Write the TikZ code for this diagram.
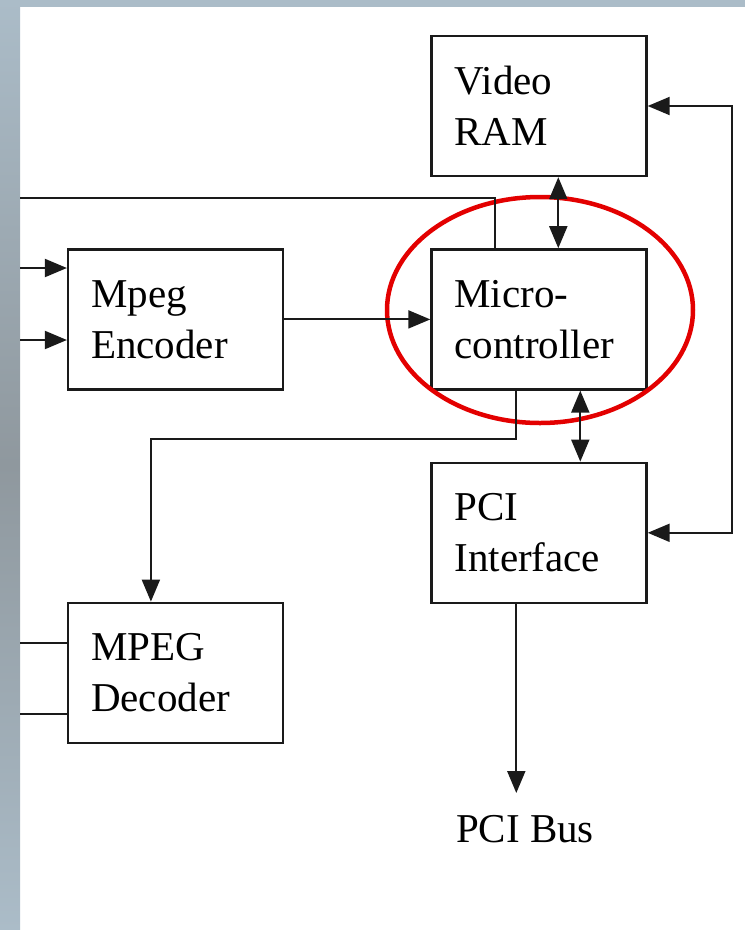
\documentclass[tikz,border=0pt]{standalone}
\usepackage{fontspec}
\setmainfont{Liberation Serif}
\usepackage{tikz}
\usetikzlibrary{arrows.meta,positioning,shapes.geometric}
\definecolor{FrameBlue}{HTML}{ABBCC8}
\definecolor{FrameGray}{HTML}{8F989E}
\definecolor{LineBlack}{HTML}{1A1A1A}
\definecolor{MarkRed}{HTML}{E30000}

\begin{document}
\begin{tikzpicture}[
  x=1pt, y=-1pt,
  % block rectangle
  blk/.style={draw=LineBlack, line width=2.4pt,
              minimum width=215pt, minimum height=140pt,
              text width=169pt, inner xsep=23pt, align=left,
              font=\fontsize{41}{51}\selectfont},
  % plain label
  lbl/.style={font=\fontsize{41}{51}\selectfont, inner sep=0pt},
  % connectors
  wire/.style={draw=LineBlack, line width=2pt},
  arr/.style={wire, -{Triangle[length=22pt,width=18pt]}},
  arrB/.style={wire, {Triangle[length=22pt,width=18pt]}-{Triangle[length=22pt,width=18pt]}},
  % highlight ring
  ring/.style={draw=MarkRed, line width=4.5pt, shape=ellipse,
               minimum width=306pt, minimum height=226pt},
]
\useasboundingbox (0,0) rectangle (745,930);

%% ── Frame of the slide ───────────────────────────────────────────────────
\shade[top color=FrameBlue, bottom color=FrameBlue, middle color=FrameGray]
  (0,0) rectangle (20,930);
\fill[FrameBlue] (0,0) rectangle (745,7);

%% ── Blocks ───────────────────────────────────────────────────────────────
\node[blk] (vram)  at (539,106)     {Video\\RAM};
\node[blk] (micro) [below=71pt of vram]   {Micro-\\controller};
\node[blk] (pci)   [below=71pt of micro]  {PCI\\Interface};
\node[blk] (enc)   [left=146pt of micro]  {Mpeg\\Encoder};
\node[blk] (dec)   [below=211pt of enc]   {MPEG\\Decoder};
\node[lbl,anchor=base] (bus) at (525,842) {PCI Bus};

\node[ring] (hl) at (540,310) {};

%% ── Loose ends at the slide edge ─────────────────────────────────────────
\coordinate (top)  at (20,198);
\coordinate (in1)  at (20,268);
\coordinate (in2)  at (20,340);
\coordinate (out1) at (20,643);
\coordinate (out2) at (20,714);
\coordinate (busin) at ([xshift=86pt]pci.south west);

%% ── Encoder path ─────────────────────────────────────────────────────────
\draw[arr] (in1) -- (in1 -| enc.west);
\draw[arr] (in2) -- (in2 -| enc.west);
\draw[arr] (enc.east) -- (enc.east -| micro.west);
\draw[wire] (top) -| ([xshift=65pt]micro.north west);

%% ── Memory and bus links ─────────────────────────────────────────────────
\draw[arrB] ([xshift=128pt]vram.south west) -- ([xshift=128pt]micro.north west);
\draw[arrB] ([xshift=150pt]micro.south west) -- ([xshift=150pt]pci.north west);
\draw[arrB] (vram.east) -- ++(84,0) |- (pci.east);
\draw[arr] (busin) -- ++(0,189);

%% ── Decoder path ─────────────────────────────────────────────────────────
\draw[arr] ([xshift=86pt]micro.south west) -- ++(0,48)
  -| ([xshift=84pt]dec.north west);
\draw[wire] (out1) -- (out1 -| dec.west);
\draw[wire] (out2) -- (out2 -| dec.west);

\end{tikzpicture}
\end{document}
